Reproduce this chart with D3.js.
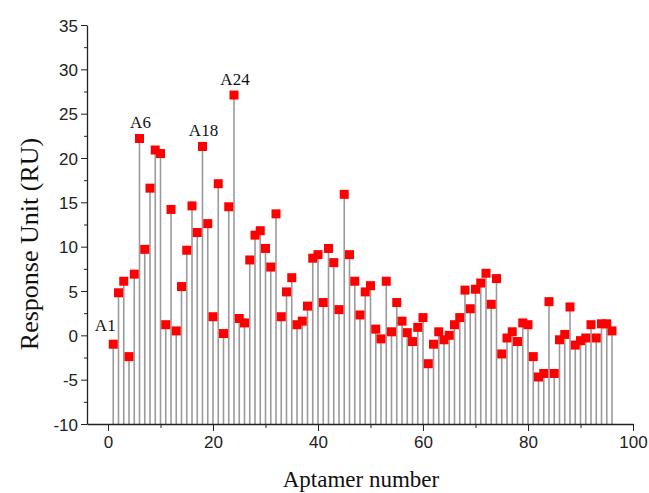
<!DOCTYPE html>
<html>
<head>
<meta charset="utf-8">
<script src="https://cdn.jsdelivr.net/npm/d3@7"></script>
<style>
  body { margin: 0; background: #fff; }
  .tick text { font-family: "Liberation Sans", Arial, sans-serif; font-size: 17px; fill: #222; }
  .title { font-family: "Liberation Serif", "Times New Roman", serif; fill: #111; }
  .lbl { font-family: "Liberation Serif", "Times New Roman", serif; font-size: 17px; fill: #111; }
</style>
</head>
<body>
<div id="chart"></div>
<script>
// response of each aptamer (aptamer 1..96)
const aptamers = d3.range(1, 97);
const response = [
  -1.0, 4.8, 6.1, -2.4, 6.9, 22.2, 9.7, 16.6, 20.9, 20.5,
  1.2, 14.2, 0.5, 5.5, 9.6, 14.6, 11.6, 21.3, 12.6, 2.1,
  17.1, 0.2, 14.5, 27.1, 1.9, 1.4, 8.5, 11.3, 11.8, 9.8,
  7.7, 13.7, 2.1, 4.9, 6.5, 1.2, 1.6, 3.3, 8.7, 9.1,
  3.7, 9.8, 8.2, 2.9, 15.9, 9.1, 6.1, 2.3, 4.9, 5.6,
  0.7, -0.4, 6.1, 0.4, 3.7, 1.6, 0.3, -0.7, 0.9, 2.0,
  -3.2, -1.0, 0.4, -0.5, 0.0, 1.2, 2.0, 5.1, 3.0, 5.2,
  5.9, 7.0, 3.5, 6.4, -2.1, -0.3, 0.4, -0.7, 1.4, 1.2,
  -2.4, -4.7, -4.3, 3.8, -4.3, -0.5, 0.1, 3.2, -1.1, -0.6,
  -0.3, 1.2, -0.3, 1.3, 1.3, 0.5
];
const labelled = [1, 6, 18, 24];

const xTicks = [0, 20, 40, 60, 80, 100];
const yTicks = [-10, -5, 0, 5, 10, 15, 20, 25, 30, 35];

const width = 649, height = 493;

const svg = d3.select('#chart').append('svg')
  .attr('width', width)
  .attr('height', height);

const x = d3.scaleLinear().domain([-4, 100]).range([87, 633]);
const y = d3.scaleLinear().domain([-10, 35]).range([424, 25]);

// stems first so the markers sit on top
svg.append('g')
  .selectAll('line')
  .data(aptamers)
  .join('line')
  .attr('x1', d => x(d))
  .attr('x2', d => x(d))
  .attr('y1', y(-10))
  .attr('y2', (d, i) => y(response[i]))
  .attr('stroke', '#9a9a9a')
  .attr('stroke-width', 1.6);

svg.append('g')
  .selectAll('rect')
  .data(aptamers)
  .join('rect')
  .attr('x', d => x(d) - 4.5)
  .attr('y', (d, i) => y(response[i]) - 4.5)
  .attr('width', 9)
  .attr('height', 9)
  .attr('fill', '#ff0000');

// y axis, minor ticks in between the labelled ones
const yMinor = d3.range(-10, 35.1, 2.5).filter(v => v % 5 !== 0);
svg.append('g')
  .attr('transform', `translate(${x(-4)},0)`)
  .call(d3.axisLeft(y).tickValues(yMinor).tickSize(3).tickFormat(''))
  .call(g => g.select('.domain').remove())
  .selectAll('line').attr('stroke', '#222');
svg.append('g')
  .attr('transform', `translate(${x(-4)},0)`)
  .call(d3.axisLeft(y).tickValues(yTicks).tickSize(6).tickSizeOuter(0).tickPadding(3)
    .tickFormat(d => String(d)))  // plain hyphen like the original
  .call(g => g.select('.domain').attr('stroke', '#222').attr('stroke-width', 1.3))
  .call(g => g.selectAll('.tick line').attr('stroke', '#222'))
  .call(g => g.selectAll('.tick text').attr('dy', '0.36em'));

// x axis
svg.append('g')
  .attr('transform', `translate(0,${y(-10)})`)
  .call(d3.axisBottom(x).tickValues([10, 30, 50, 70, 90]).tickSize(4).tickFormat(''))
  .call(g => g.select('.domain').remove())
  .selectAll('line').attr('stroke', '#222');
svg.append('g')
  .attr('transform', `translate(0,${y(-10)})`)
  .call(d3.axisBottom(x).tickValues(xTicks).tickSize(7).tickSizeOuter(0).tickPadding(5))
  .call(g => g.select('.domain').attr('stroke', '#222').attr('stroke-width', 1.3))
  .call(g => g.selectAll('.tick line').attr('stroke', '#222'));

// labels over a few aptamers
svg.append('g')
  .selectAll('text')
  .data(labelled)
  .join('text')
  .attr('class', 'lbl')
  .attr('x', d => d === 1 ? x(d) - 8 : x(d) + 1)
  .attr('y', d => y(response[d - 1]) - (d === 1 ? 13 : 10))
  .attr('text-anchor', 'middle')
  .text(d => 'A' + d);

svg.append('text')
  .attr('class', 'title')
  .attr('x', 361)
  .attr('y', 487)
  .attr('text-anchor', 'middle')
  .style('font-size', '23px')
  .text('Aptamer number');

svg.append('text')
  .attr('class', 'title')
  .attr('transform', `translate(38,244) rotate(-90)`)
  .attr('text-anchor', 'middle')
  .style('font-size', '26px')
  .text('Response Unit (RU)');
</script>
</body>
</html>
